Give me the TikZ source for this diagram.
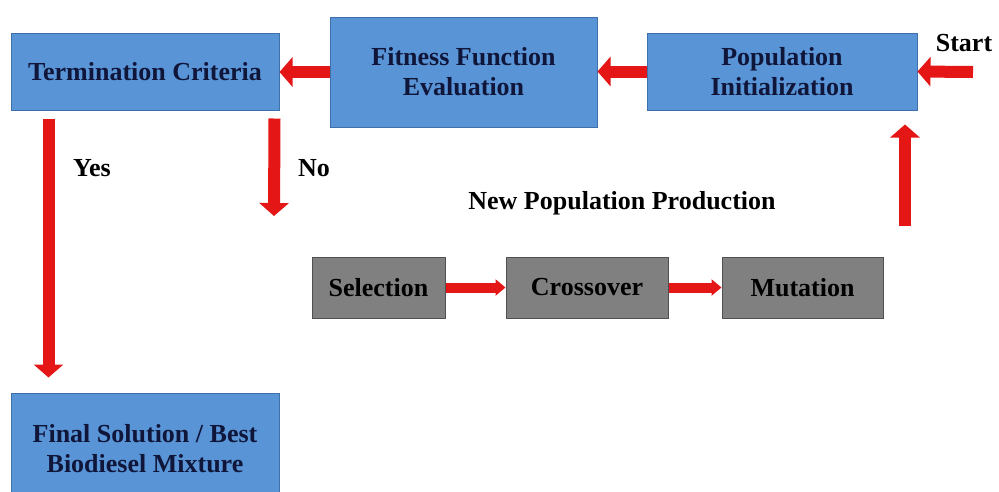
\documentclass[tikz,border=0pt]{standalone}
\usepackage{fontspec}
\setmainfont{Liberation Serif}
\usepackage{tikz}
\usetikzlibrary{calc,positioning,arrows.meta}
\definecolor{boxblue}{RGB}{88,148,214}
\definecolor{boxblueedge}{RGB}{62,112,170}
\definecolor{boxgray}{RGB}{128,128,128}
\definecolor{boxgrayedge}{RGB}{80,80,80}
\definecolor{navytext}{RGB}{16,22,58}
\definecolor{arrowred}{RGB}{228,22,22}

\begin{document}
\begin{tikzpicture}[x=1pt, y=-1pt,
		bluebox/.style={draw=boxblueedge, fill=boxblue, line width=1pt, text=navytext, align=center, inner sep=2pt,
			font=\fontsize{26}{30}\selectfont\bfseries},
		graybox/.style={draw=boxgrayedge, fill=boxgray, line width=1pt, text=black, align=center, inner sep=2pt,
			minimum height=61pt, font=\fontsize{26}{30}\selectfont\bfseries},
		lbl/.style={text=black, font=\fontsize{26}{30}\selectfont\bfseries},
		redarrow/.style={draw=arrowred, line width=12pt, -{Triangle[width=29pt, length=13pt]}},
		thinred/.style={draw=arrowred, line width=10pt, -{Triangle[width=16pt, length=10pt]}}]
				\useasboundingbox (0,0) rectangle (999,491);
				\fill[white] (0,0) rectangle (999,491);
				
				% top row
				\node[bluebox, minimum width=268pt, minimum height=77pt] (term) at (145,71.5) {Termination Criteria};
				\node[bluebox, minimum width=267pt, minimum height=110pt] (fitness) at (463.5,72) {Fitness Function\\Evaluation};
				\node[bluebox, minimum width=270pt, minimum height=77pt] (popinit) at (782,71.5) {Population\\Initialization};
				\node[lbl] (startlbl) at (964,43) {Start};
				\coordinate (startpt) at (973,72);
				
				% result
				\node[bluebox, minimum width=268pt, minimum height=112pt] (final) at (145,449) {Final Solution / Best\\Biodiesel Mixture};
				\node[lbl] (yeslbl) at (92,168) {Yes};
				\node[lbl] (nolbl) at (314,168) {No};
				\coordinate (noend) at (274,216);
				
				% new population
				\node[lbl] (newpop) at (622,203) {New Population Production};
				\node[graybox, minimum width=133pt] (select) at (378.5,287.5) {Selection};
				\node[graybox, minimum width=162pt] (cross) at (587,287.5) {Crossover};
				\node[graybox, minimum width=161pt] (mutate) at (802.5,287.5) {Mutation};
				\coordinate (upstart) at (905,226);
				
				\draw[redarrow] (startpt) -- (popinit.east);
				\draw[redarrow] (popinit.west) -- (popinit.west -| fitness.east);
				\draw[redarrow] (fitness.west) -- (fitness.west -| term.east);
				\draw[redarrow] ([xshift=38pt,yshift=-8pt]term.south west) -- ([xshift=38pt,yshift=15pt]final.north west);
				\draw[redarrow] ([xshift=-5pt,yshift=-8pt]term.south east) -- (noend);
				\draw[redarrow] (upstart) -- ([yshift=-14pt]upstart |- popinit.south);
				\draw[thinred] (select.east) -- (cross.west);
				\draw[thinred] (cross.east) -- (mutate.west);
\end{tikzpicture}
\end{document}
